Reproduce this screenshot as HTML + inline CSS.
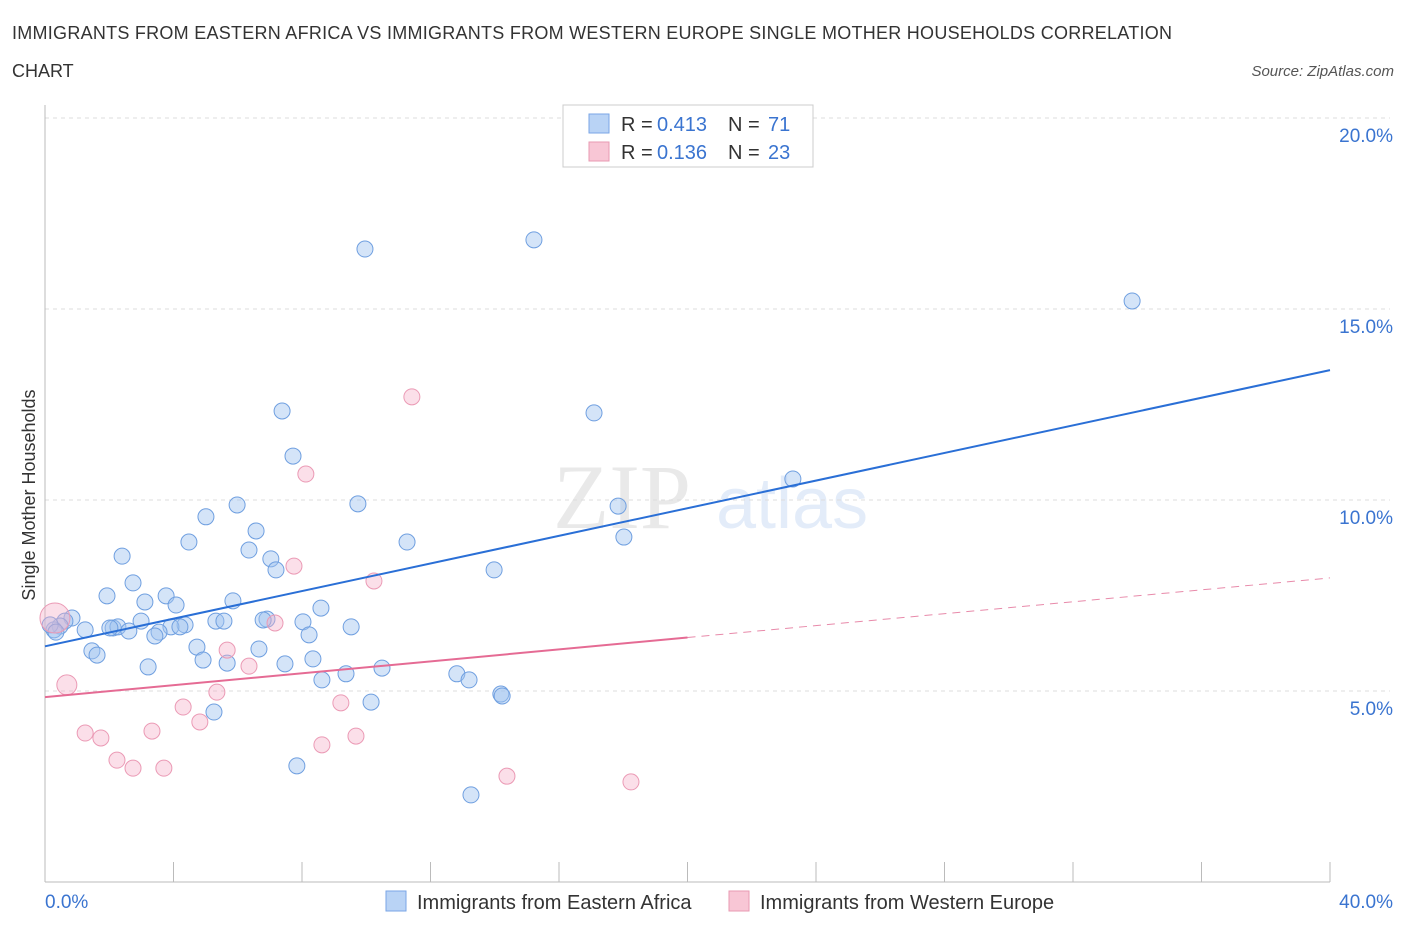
<!DOCTYPE html>
<html><head><meta charset="utf-8"><style>
body{margin:0;background:#fff;font-family:"Liberation Sans",sans-serif;}
svg{display:block}
</style></head><body>
<svg id="chart" width="1406" height="930">
<text x="12" y="39" font-size="18" fill="#333" textLength="1160" lengthAdjust="spacing">IMMIGRANTS FROM EASTERN AFRICA VS IMMIGRANTS FROM WESTERN EUROPE SINGLE MOTHER HOUSEHOLDS CORRELATION</text>
<text x="12" y="77" font-size="18" fill="#333">CHART</text>
<text x="1394" y="76" font-size="15" fill="#555" font-style="italic" text-anchor="end">Source: ZipAtlas.com</text>
<g opacity="0.18">
<text x="553" y="528" font-size="92" font-family="Liberation Serif,serif" fill="#888">ZIP</text>
<text x="716" y="528" font-size="72" fill="#6a9be0">atlas</text>
</g>
<g id="grid"></g>
<g id="axes"></g>
<g id="marks"></g>
<text x="35" y="495" font-size="18" fill="#333" text-anchor="middle" transform="rotate(-90 35 495)">Single Mother Households</text>
<g font-size="20">
<rect x="563" y="105" width="250" height="62" fill="#fff" stroke="#ccc"/>
<rect x="589" y="114" width="20" height="19" fill="#b9d3f5" stroke="#7aa6e6"/>
<text x="621" y="131" fill="#333">R =</text><text x="657" y="131" fill="#3a74d0">0.413</text>
<text x="728" y="131" fill="#333">N =</text><text x="768" y="131" fill="#3a74d0">71</text>
<rect x="589" y="142" width="20" height="19" fill="#f8c6d5" stroke="#e89ab2"/>
<text x="621" y="159" fill="#333">R =</text><text x="657" y="159" fill="#3a74d0">0.136</text>
<text x="728" y="159" fill="#333">N =</text><text x="768" y="159" fill="#3a74d0">23</text>
</g>
<g font-size="20">
<rect x="386" y="891" width="20" height="20" fill="#b9d3f5" stroke="#7aa6e6"/>
<text x="417" y="909" fill="#333">Immigrants from Eastern Africa</text>
<rect x="729" y="891" width="20" height="20" fill="#f8c6d5" stroke="#e89ab2"/>
<text x="760" y="909" fill="#333">Immigrants from Western Europe</text>
</g>
</svg>
<script>
const yTicks=[5,10,15,20];
const yTickLabels=["5.0%","10.0%","15.0%","20.0%"];
const xTickLabels=["0.0%","40.0%"];
const blueX=[9.96,15.22,33.84,7.38,17.09,7.72,23.28,5.98,9.74,17.84,5.01,6.57,4.48,11.27,18.02,2.40,6.35,7.03,7.19,13.98,2.74,1.93,3.77,3.11,4.08,5.85,8.59,6.91,8.03,2.99,5.32,5.57,4.36,3.92,9.53,0.84,0.62,0.47,0.28,1.25,2.12,2.27,2.61,3.55,3.42,8.22,4.73,6.66,1.46,1.62,4.92,5.67,7.47,8.34,3.21,10.49,8.62,9.37,12.82,13.20,14.19,14.23,10.15,5.26,7.84,13.26,0.16,2.02,6.79,4.20,0.34];
const blueY=[16.57,16.81,15.21,12.33,12.28,11.15,10.55,9.87,9.90,9.84,9.56,9.19,8.90,8.90,9.03,8.53,8.69,8.46,8.17,8.17,7.83,7.49,7.49,7.33,7.25,7.36,7.17,6.88,6.81,6.83,6.83,6.83,6.73,6.68,6.68,6.91,6.83,6.70,6.60,6.60,6.65,6.68,6.57,6.54,6.44,6.47,6.15,6.10,6.05,5.94,5.81,5.73,5.71,5.84,5.63,5.60,5.29,5.45,5.45,5.29,4.92,4.87,4.71,4.45,3.04,2.28,6.73,6.65,6.86,6.68,6.54];
const pinkX=[0.31,0.68,11.42,8.12,7.75,10.24,7.16,5.67,6.35,5.35,4.30,9.21,4.82,1.25,1.74,3.33,9.68,8.62,2.24,2.74,3.70,14.38,18.24];
const pinkY=[6.91,5.16,12.70,10.68,8.27,7.88,6.78,6.07,5.65,4.97,4.58,4.69,4.19,3.90,3.77,3.95,3.82,3.59,3.19,2.98,2.98,2.77,2.62];
const blueTrend=[6.17,13.4];
const pinkTrend=[4.84,6.4,7.96];
const X0=45,X1=1330,Y0=882,YTOP=118;
const xs=v=>X0+v/40*(X1-X0);
const ys=v=>Y0-v/20*(Y0-YTOP);
const NS="http://www.w3.org/2000/svg";
function mk(tag,attrs,parent){const e=document.createElementNS(NS,tag);for(const k in attrs)e.setAttribute(k,attrs[k]);document.getElementById(parent).appendChild(e);return e;}
yTicks.forEach((t,i)=>{
 const g=mk('line',{x1:X0,x2:X1+60,y1:ys(t),y2:ys(t),stroke:'#ddd','stroke-dasharray':'4,4'},'grid');
 
 
 const l=mk('text',{x:1393,y:ys(t)+24,'font-size':19,fill:'#3a74d0','text-anchor':'end'},'axes');
 l.textContent=yTickLabels[i];
 
 
});
const ax=mk('line',{x1:X0,x2:X0,y1:105,y2:Y0,stroke:'#bbb'},'axes');


const bx=mk('line',{x1:X0,x2:X1,y1:Y0,y2:Y0,stroke:'#bbb'},'axes');


for(let i=0;i<=10;i++){const t=mk('line',{x1:xs(i*4),x2:xs(i*4),y1:Y0-20,y2:Y0,stroke:'#bbb'},'axes');
 
 }
[[0,45,'start'],[40,1393,'end']].forEach((a,i)=>{const t=mk('text',{x:a[1],y:908,'font-size':19,fill:'#3a74d0','text-anchor':a[2]},'axes');t.textContent=xTickLabels[i];
 
 });
blueX.forEach((v,i)=>{const c=mk('circle',{cx:xs(v),cy:ys(blueY[i]),r:8,fill:'rgba(160,195,240,0.45)',stroke:'#6f9fe0','stroke-width':1},'marks');
 
 });
pinkX.forEach((v,i)=>{const c=mk('circle',{cx:xs(v),cy:ys(pinkY[i]),r:i==0?15:(i==1?10:8),fill:'rgba(245,175,200,0.4)',stroke:'#eb9ab5','stroke-width':1},'marks');
 
 });
const bl=mk('line',{x1:xs(0),y1:ys(blueTrend[0]),x2:xs(40),y2:ys(blueTrend[1]),stroke:'#2a6fd6','stroke-width':2},'marks');


const pl=mk('line',{x1:xs(0),y1:ys(pinkTrend[0]),x2:xs(20),y2:ys(pinkTrend[1]),stroke:'#e56b94','stroke-width':2},'marks');


const pd=mk('line',{x1:xs(20),y1:ys(pinkTrend[1]),x2:xs(40),y2:ys(pinkTrend[2]),stroke:'#e88aaa','stroke-width':1,'stroke-dasharray':'8,6'},'marks');


</script>
</body></html>
